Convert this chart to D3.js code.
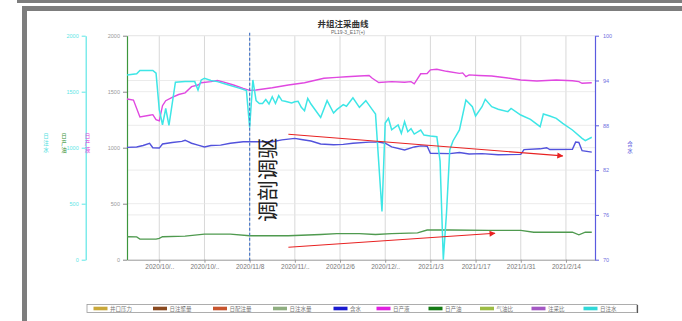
<!DOCTYPE html>
<html>
<head>
<meta charset="utf-8">
<script src="https://cdn.jsdelivr.net/npm/d3@7"></script>
<style>
  html, body { margin: 0; padding: 0; background: #fff; }
  svg { display: block; }
  text { font-family: "Liberation Sans", "Noto Sans CJK SC", sans-serif; }
  .cjk { font-family: "Noto Sans CJK SC", sans-serif; }
</style>
</head>
<body>
<svg id="chart" width="682" height="321"></svg>
<script>
// ---- data -------------------------------------------------------------
const chartTitle = "井组注采曲线";
const chartSubtitle = "PL19-3_E17(+)";

const xTickDates  = ["2020-10-11","2020-10-25","2020-11-08","2020-11-22","2020-12-06","2020-12-20",
                     "2021-01-03","2021-01-17","2021-01-31","2021-02-14"];
const xTickLabels = ["2020/10/..","2020/10/..","2020/11/8","2020/11/..","2020/12/6","2020/12/..",
                     "2021/1/3","2021/1/17","2021/1/31","2021/2/14"];
const leftTicks  = [0, 500, 1000, 1500, 2000];
const rightTicks = [70, 76, 82, 88, 94, 100];

// 日注水 (cyan axis)
const injection = [
  ["2020-10-01",1650],["2020-10-04",1660],["2020-10-05",1690],["2020-10-09",1690],["2020-10-10",1665],
  ["2020-10-11",1340],["2020-10-12",1205],["2020-10-13",1350],["2020-10-14",1200],["2020-10-16",1585],
  ["2020-10-19",1590],["2020-10-22",1590],["2020-10-23",1515],["2020-10-24",1605],["2020-10-25",1620],
  ["2020-10-27",1600],["2020-10-29",1590],["2020-11-01",1565],["2020-11-05",1530],["2020-11-07",1510],
  ["2020-11-08",1180],["2020-11-09",1605],["2020-11-10",1420],["2020-11-11",1395],["2020-11-12",1395],
  ["2020-11-13",1430],["2020-11-14",1390],["2020-11-15",1455],["2020-11-16",1395],["2020-11-17",1465],
  ["2020-11-18",1420],["2020-11-19",1415],["2020-11-21",1400],["2020-11-22",1410],["2020-11-23",1415],
  ["2020-11-24",1360],["2020-11-25",1330],["2020-11-26",1440],["2020-11-27",1390],["2020-11-28",1350],
  ["2020-11-30",1270],["2020-12-02",1420],["2020-12-04",1310],["2020-12-05",1340],["2020-12-07",1385],
  ["2020-12-08",1370],["2020-12-10",1445],["2020-12-12",1360],["2020-12-14",1420],["2020-12-16",1340],
  ["2020-12-17",1300],["2020-12-19",430],["2020-12-20",1220],["2020-12-21",1262],["2020-12-22",1160],
  ["2020-12-24",1203],["2020-12-25",1128],["2020-12-26",1232],["2020-12-27",1143],["2020-12-28",1170],
  ["2020-12-29",1122],["2020-12-31",1158],["2021-01-01",1113],["2021-01-03",1104],["2021-01-05",1098],
  ["2021-01-06",880],["2021-01-07",0],["2021-01-08",420],["2021-01-09",980],["2021-01-10",1060],
  ["2021-01-12",1158],["2021-01-14",1426],["2021-01-16",1366],["2021-01-17",1283],["2021-01-19",1366],
  ["2021-01-20",1432],["2021-01-22",1366],["2021-01-24",1343],["2021-01-27",1322],["2021-01-28",1351],
  ["2021-01-31",1292],["2021-02-03",1253],["2021-02-06",1188],["2021-02-07",1301],["2021-02-09",1283],
  ["2021-02-11",1262],["2021-02-13",1218],["2021-02-16",1158],["2021-02-19",1084],["2021-02-20",1063],
  ["2021-02-22",1093]
];

// 日产液 (left axis)
const liquid = [
  ["2020-10-01",1435],["2020-10-03",1425],["2020-10-05",1275],["2020-10-08",1290],["2020-10-09",1295],
  ["2020-10-10",1250],["2020-10-11",1240],["2020-10-12",1375],["2020-10-13",1420],["2020-10-15",1450],
  ["2020-10-17",1475],["2020-10-19",1490],["2020-10-21",1545],["2020-10-23",1560],["2020-10-24",1580],
  ["2020-10-27",1590],["2020-10-29",1600],["2020-10-31",1585],["2020-11-03",1560],["2020-11-06",1530],
  ["2020-11-08",1512],["2020-11-10",1515],["2020-11-15",1535],["2020-11-20",1560],["2020-11-25",1580],
  ["2020-11-28",1600],["2020-12-01",1620],["2020-12-05",1628],["2020-12-08",1634],["2020-12-12",1640],
  ["2020-12-15",1645],["2020-12-16",1620],["2020-12-18",1582],["2020-12-22",1590],["2020-12-26",1585],
  ["2020-12-28",1590],["2020-12-29",1570],["2020-12-31",1660],["2021-01-02",1662],["2021-01-03",1695],
  ["2021-01-05",1700],["2021-01-08",1682],["2021-01-12",1664],["2021-01-13",1668],["2021-01-14",1634],
  ["2021-01-15",1650],["2021-01-18",1645],["2021-01-22",1640],["2021-01-27",1622],["2021-01-31",1604],
  ["2021-02-05",1596],["2021-02-11",1604],["2021-02-16",1598],["2021-02-18",1590],["2021-02-19",1575],
  ["2021-02-22",1580]
];

// 日产油 (left axis)
const oil = [
  ["2020-10-01",205],["2020-10-04",203],["2020-10-05",184],["2020-10-10",184],["2020-10-11",190],
  ["2020-10-12",205],["2020-10-19",210],["2020-10-25",229],["2020-11-02",229],["2020-11-08",214],
  ["2020-11-20",214],["2020-11-30",225],["2020-12-05",232],["2020-12-12",232],["2020-12-17",225],
  ["2020-12-22",232],["2020-12-30",240],["2021-01-02",265],["2021-01-09",265],["2021-01-21",262],
  ["2021-01-31",262],["2021-02-04",245],["2021-02-16",245],["2021-02-18",222],["2021-02-20",245],
  ["2021-02-22",245]
];

// 含水 (right axis, %)
const waterCut = [
  ["2020-10-01",85.05],["2020-10-04",85.1],["2020-10-06",85.3],["2020-10-08",85.6],["2020-10-09",85.0],
  ["2020-10-11",84.95],["2020-10-12",85.5],["2020-10-15",85.7],["2020-10-18",85.85],["2020-10-19",86.0],
  ["2020-10-21",85.6],["2020-10-23",85.35],["2020-10-25",85.1],["2020-10-27",85.3],["2020-10-30",85.35],
  ["2020-11-02",85.6],["2020-11-06",85.8],["2020-11-09",85.8],["2020-11-15",85.8],["2020-11-18",86.05],
  ["2020-11-22",86.25],["2020-11-24",86.1],["2020-11-27",85.9],["2020-11-30",85.5],["2020-12-04",85.4],
  ["2020-12-07",85.45],["2020-12-10",85.6],["2020-12-15",85.75],["2020-12-18",85.75],["2020-12-20",85.6],
  ["2020-12-22",85.1],["2020-12-26",84.7],["2020-12-29",85.1],["2020-12-31",85.25],["2021-01-02",85.2],
  ["2021-01-03",84.25],["2021-01-09",84.2],["2021-01-12",84.35],["2021-01-15",84.15],["2021-01-19",84.2],
  ["2021-01-24",84.05],["2021-01-31",84.1],["2021-02-01",84.75],["2021-02-06",84.85],["2021-02-08",85.0],
  ["2021-02-09",84.75],["2021-02-16",84.8],["2021-02-17",85.75],["2021-02-18",85.7],["2021-02-19",84.6],
  ["2021-02-22",84.4]
];

// legend entries
const legendNames  = ["井口压力","日注聚量","日配注量","日注水量","含水","日产液","日产油","气油比","注采比","日注水"];
const legendColors = ["#c9a83a","#8a4a20","#c8552e","#8fae80","#1a1ad0","#e020e0","#157a15","#9cbc44","#a458c4","#30d8d8"];

// treatment marker and trend arrows
const treatmentDate  = "2020-11-08";
const treatmentLabel = "调剖调驱";
const trendArrows = [
  { from: ["2020-11-20", 86.8], to: ["2021-02-13", 83.9], axis: "right" },
  { from: ["2020-11-20", 111],  to: ["2021-01-23", 236],  axis: "left"  }
];

// ---- drawing ------------------------------------------------------------
const parse = d3.timeParse("%Y-%m-%d");
const svg = d3.select("#chart");

// page frame
svg.append("rect").attr("x", 17).attr("y", 0).attr("width", 665).attr("height", 3).attr("fill", "#7d7d7d");
svg.append("rect").attr("x", 22).attr("y", 6).attr("width", 660).attr("height", 5).attr("fill", "#7d7d7d");
svg.append("rect").attr("x", 22).attr("y", 6).attr("width", 5).attr("height", 315).attr("fill", "#7d7d7d");

const plot = { left: 127, right: 595, top: 35.7, bottom: 259.7 };

const x = d3.scaleTime()
  .domain([parse("2020-10-01"), parse("2021-02-23")])
  .range([plot.left, plot.right]);
const yL = d3.scaleLinear().domain([0, 2000]).range([plot.bottom, plot.top]);
const yR = d3.scaleLinear().domain([70, 100]).range([plot.bottom, plot.top]);

// grid
const grid = svg.append("g");
grid.selectAll(".vg").data(xTickDates).join("line")
  .attr("x1", d => x(parse(d))).attr("x2", d => x(parse(d)))
  .attr("y1", plot.top).attr("y2", plot.bottom)
  .attr("stroke", "#d8d8d8").attr("stroke-width", 1);
grid.selectAll(".hl").data(leftTicks.slice(1)).join("line")
  .attr("x1", plot.left).attr("x2", plot.right)
  .attr("y1", d => yL(d)).attr("y2", d => yL(d))
  .attr("stroke", "#e6e6e6").attr("stroke-width", 0.8);
grid.selectAll(".hr").data(rightTicks.slice(1)).join("line")
  .attr("x1", plot.left).attr("x2", plot.right)
  .attr("y1", d => yR(d)).attr("y2", d => yR(d))
  .attr("stroke", "#e6e6e6").attr("stroke-width", 0.8);

// title
svg.append("text").attr("class", "cjk").attr("x", 343).attr("y", 27)
  .attr("text-anchor", "middle").attr("font-size", 8.5).attr("font-weight", "bold")
  .attr("fill", "#333").text(chartTitle);
svg.append("text").attr("x", 348).attr("y", 34)
  .attr("text-anchor", "middle").attr("font-size", 5).attr("fill", "#666").text(chartSubtitle);

// axes
function styleAxis(g, lineColor, textColor, size) {
  g.select(".domain").attr("stroke", lineColor).attr("stroke-width", 1.2);
  g.selectAll(".tick line").attr("stroke", lineColor);
  g.selectAll(".tick text").attr("fill", textColor).attr("font-size", size);
}
const plain = d3.format("d");

const cyanAxis = svg.append("g").attr("transform", `translate(85.7,0)`)
  .call(d3.axisLeft(yL).tickValues(leftTicks).tickFormat(plain).tickSize(4).tickSizeOuter(0).tickPadding(3));
styleAxis(cyanAxis, "#5ee6e6", "#5ee6e6", 5.5);

const leftAxis = svg.append("g").attr("transform", `translate(${plot.left},0)`)
  .call(d3.axisLeft(yL).tickValues(leftTicks).tickFormat(plain).tickSize(4).tickSizeOuter(0).tickPadding(3));
styleAxis(leftAxis, "#3c963c", "#999", 5.5);
leftAxis.selectAll(".tick line").attr("stroke", "#888");

const rightAxis = svg.append("g").attr("transform", `translate(${plot.right},0)`)
  .call(d3.axisRight(yR).tickValues(rightTicks).tickFormat(plain).tickSize(4).tickSizeOuter(0).tickPadding(4));
styleAxis(rightAxis, "#5a5ae0", "#7070e0", 5.5);

const bottomAxis = svg.append("g").attr("transform", `translate(0,${plot.bottom})`)
  .call(d3.axisBottom(x).tickValues(xTickDates.map(parse))
    .tickFormat((d, i) => xTickLabels[i]).tickSize(3).tickSizeOuter(0).tickPadding(2));
styleAxis(bottomAxis, "#999", "#777", 6.5);
bottomAxis.select(".domain").attr("stroke-width", 1);

// axis titles, one character per line
function stackedTitle(txt, cx, cy, color) {
  const step = 7;
  const chars = Array.from(txt);
  const start = cy - (chars.length - 1) * step / 2;
  svg.append("g").selectAll("text").data(chars).join("text")
    .attr("class", "cjk").attr("font-size", 5.5).attr("fill", color)
    .attr("text-anchor", "middle").attr("dominant-baseline", "central")
    .attr("x", cx).attr("y", (c, i) => start + i * step).text(c => c);
}
stackedTitle("日注水", 46, 143, "#4fe0e0");
stackedTitle("日产油", 64, 143, "#3c963c");
stackedTitle("日产液", 87.5, 143, "#e040e0");
stackedTitle("含水", 630, 147, "#6060e0");

// series
const lineL = d3.line().x(d => x(parse(d[0]))).y(d => yL(d[1]));
const lineR = d3.line().x(d => x(parse(d[0]))).y(d => yR(d[1]));

svg.append("path").datum(oil).attr("d", lineL)
  .attr("fill", "none").attr("stroke", "#4f9a4f").attr("stroke-width", 1.3);
svg.append("path").datum(liquid).attr("d", lineL)
  .attr("fill", "none").attr("stroke", "#e048e0").attr("stroke-width", 1.4);
svg.append("path").datum(waterCut).attr("d", lineR)
  .attr("fill", "none").attr("stroke", "#5252dc").attr("stroke-width", 1.4);
svg.append("path").datum(injection).attr("d", lineL)
  .attr("fill", "none").attr("stroke", "#3ee6e6").attr("stroke-width", 1.5);

// treatment date marker
svg.append("line")
  .attr("x1", x(parse(treatmentDate))).attr("x2", x(parse(treatmentDate)))
  .attr("y1", plot.top - 3).attr("y2", plot.bottom + 3)
  .attr("stroke", "#4a78c8").attr("stroke-width", 1.2).attr("stroke-dasharray", "3,2");

svg.append("text").attr("class", "cjk")
  .attr("transform", `translate(${x(parse("2020-11-13"))},${yL(712)}) rotate(-90)`)
  .attr("text-anchor", "middle").attr("dominant-baseline", "central")
  .attr("font-size", 21).attr("fill", "#222").text(treatmentLabel);

// trend arrows
svg.append("defs").append("marker")
  .attr("id", "arrow").attr("viewBox", "0 0 10 10").attr("refX", 9).attr("refY", 5)
  .attr("markerWidth", 8).attr("markerHeight", 6).attr("markerUnits", "userSpaceOnUse")
  .attr("orient", "auto")
  .append("path").attr("d", "M0,0 L10,5 L0,10 z").attr("fill", "#e82222");

svg.selectAll(".trend").data(trendArrows).join("line")
  .attr("x1", d => x(parse(d.from[0])))
  .attr("y1", d => (d.axis === "right" ? yR : yL)(d.from[1]))
  .attr("x2", d => x(parse(d.to[0])))
  .attr("y2", d => (d.axis === "right" ? yR : yL)(d.to[1]))
  .attr("stroke", "#e82222").attr("stroke-width", 1.2)
  .attr("marker-end", "url(#arrow)");

// legend
const legendX = [93.5, 153, 213, 273, 333.5, 376.5, 428.5, 480, 531.5, 583.5];
const legend = svg.append("g");
legend.append("rect").attr("x", 87).attr("y", 304.5).attr("width", 550).attr("height", 8)
  .attr("fill", "#fff").attr("stroke", "#999").attr("stroke-width", 0.8);
legend.append("line").attr("x1", 637.5).attr("x2", 637.5).attr("y1", 305).attr("y2", 313)
  .attr("stroke", "#555").attr("stroke-width", 1.2);
const items = legend.selectAll(".item").data(legendNames).join("g")
  .attr("transform", (d, i) => `translate(${legendX[i]},308.5)`);
items.append("rect").attr("x", 0).attr("y", -1.8).attr("width", 14).attr("height", 3.6)
  .attr("fill", (d, i) => legendColors[i]);
items.append("text").attr("class", "cjk").attr("x", 16.5).attr("y", 2)
  .attr("font-size", 5.5).attr("fill", "#777").text(d => d);
</script>
</body>
</html>
